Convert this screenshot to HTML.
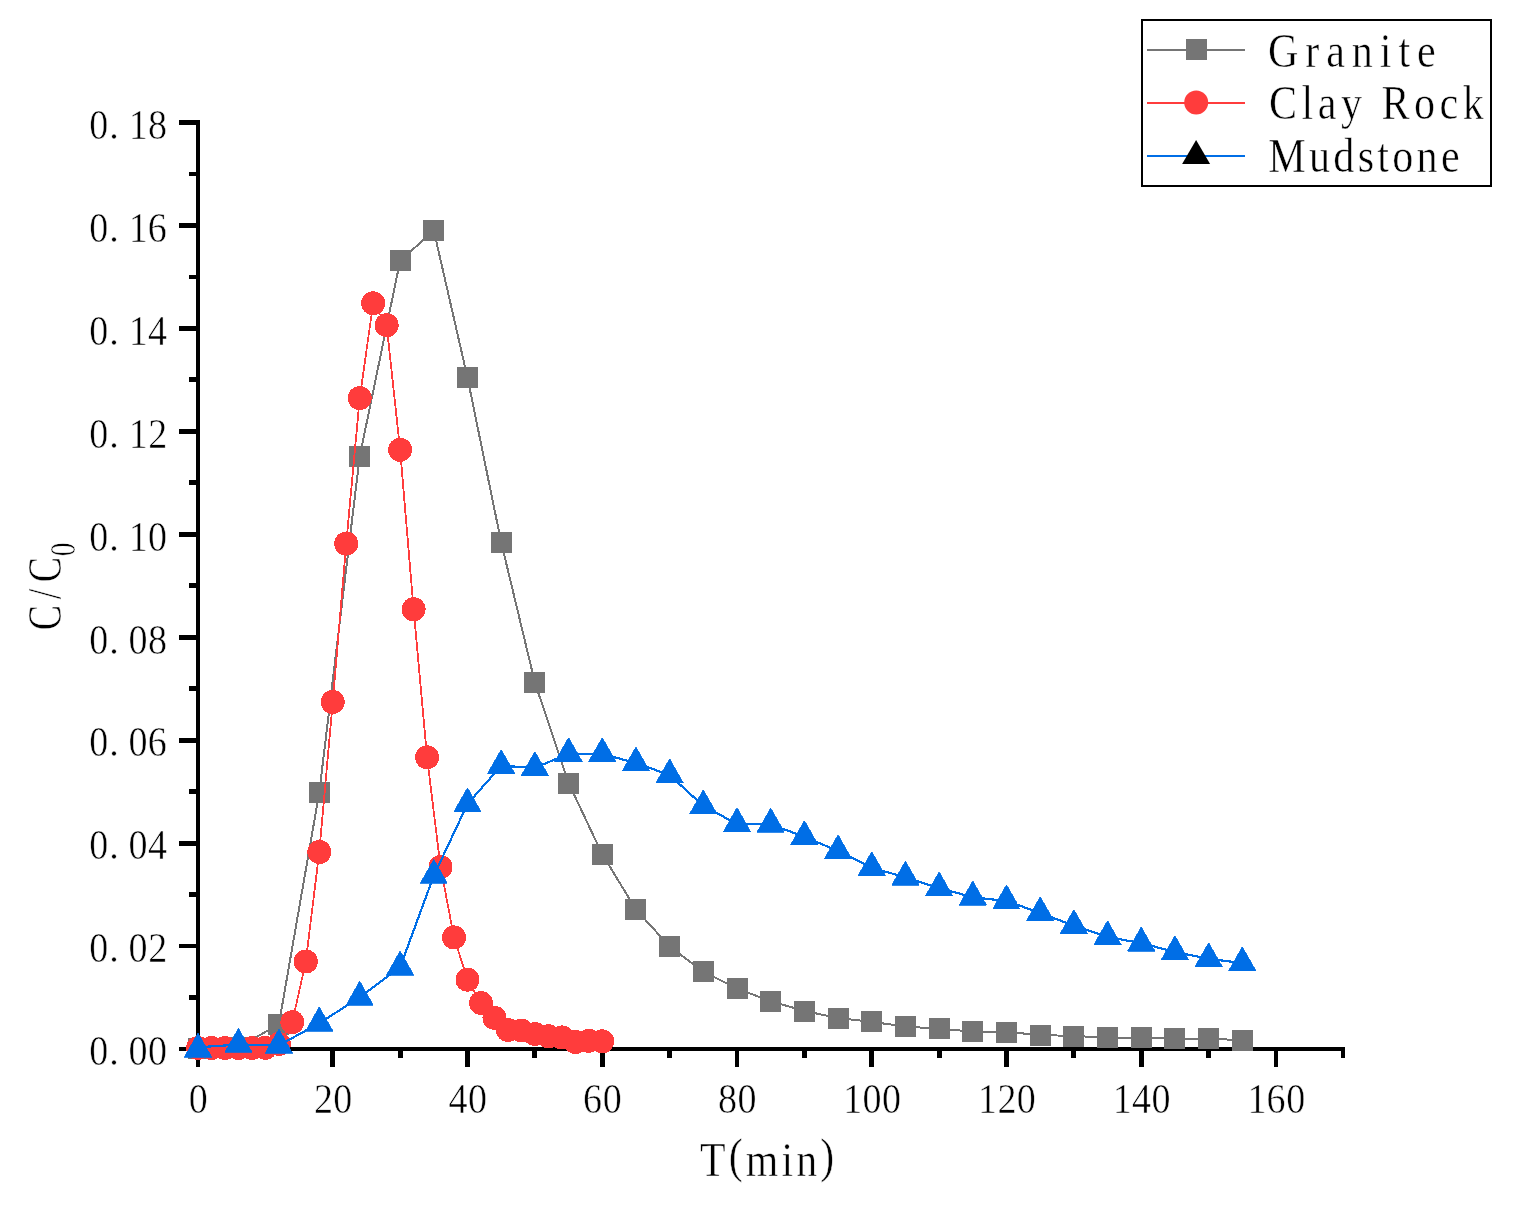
<!DOCTYPE html>
<html lang="en"><head><meta charset="utf-8"><title>C/C0 vs T(min)</title>
<style>html,body{margin:0;padding:0;background:#fff}body{width:1513px;height:1208px;overflow:hidden}svg{display:block}.t{font-family:"Liberation Serif",serif;fill:#000;stroke:#fff;stroke-width:0.5px}.ax{fill:#000;shape-rendering:crispEdges}</style></head><body>
<svg width="1513" height="1208" viewBox="0 0 1513 1208">
<rect width="1513" height="1208" fill="#fff"/>
<g class="ax">
<rect x="196" y="120" width="4" height="931"/>
<rect x="196" y="1047" width="1149" height="4"/>
<path d="M179 1047h17v4h-17zM189 995h7v5h-7zM179 944h17v4h-17zM189 892h7v5h-7zM179 841h17v5h-17zM189 789h7v5h-7zM179 738h17v5h-17zM189 686h7v5h-7zM179 635h17v5h-17zM189 583h7v5h-7zM179 532h17v5h-17zM189 480h7v5h-7zM179 429h17v5h-17zM189 377h7v5h-7zM179 326h17v5h-17zM189 275h7v4h-7zM179 223h17v5h-17zM189 172h7v4h-7zM179 120h17v5h-17zM196 1051h4v16h-4zM263 1051h5v7h-5zM330 1051h5v16h-5zM398 1051h5v7h-5zM465 1051h5v16h-5zM532 1051h5v7h-5zM600 1051h5v16h-5zM667 1051h5v7h-5zM735 1051h4v16h-4zM802 1051h5v7h-5zM869 1051h5v16h-5zM937 1051h5v7h-5zM1004 1051h5v16h-5zM1071 1051h5v7h-5zM1139 1051h5v16h-5zM1206 1051h5v7h-5zM1274 1051h4v16h-4zM1341 1051h4v7h-4z"/>
</g>
<g id="series" shape-rendering="crispEdges">
<g id="granite">
<polyline fill="none" stroke="#757575" stroke-width="2" stroke-linejoin="round" points="198,1048.5 238.43,1047 278.85,1024.5 319.27,792.5 359.7,456.5 400.12,260.9 433.81,230.5 467.5,377.7 501.19,542.3 534.88,682.5 568.56,783 602.25,854.2 635.94,909.5 669.62,946.5 703.31,971.6 737,988.6 770.69,1001.2 804.38,1011 838.06,1018 871.75,1021.9 905.44,1026.5 939.12,1028.9 972.81,1031.5 1006.5,1032 1040.19,1035 1073.88,1036 1107.56,1037.5 1141.25,1037.5 1174.94,1038.4 1208.62,1038.9 1242.31,1040"/>
<path fill="#757575" d="M187.5 1038h21v21h-21zM227.93 1036.5h21v21h-21zM268.35 1014h21v21h-21zM308.77 782h21v21h-21zM349.2 446h21v21h-21zM389.62 250.4h21v21h-21zM423.31 220h21v21h-21zM457 367.2h21v21h-21zM490.69 531.8h21v21h-21zM524.38 672h21v21h-21zM558.06 772.5h21v21h-21zM591.75 843.7h21v21h-21zM625.44 899h21v21h-21zM659.12 936h21v21h-21zM692.81 961.1h21v21h-21zM726.5 978.1h21v21h-21zM760.19 990.7h21v21h-21zM793.88 1000.5h21v21h-21zM827.56 1007.5h21v21h-21zM861.25 1011.4h21v21h-21zM894.94 1016h21v21h-21zM928.62 1018.4h21v21h-21zM962.31 1021h21v21h-21zM996 1021.5h21v21h-21zM1029.69 1024.5h21v21h-21zM1063.38 1025.5h21v21h-21zM1097.06 1027h21v21h-21zM1130.75 1027h21v21h-21zM1164.44 1027.9h21v21h-21zM1198.12 1028.4h21v21h-21zM1231.81 1029.5h21v21h-21z"/>
</g>
<g id="clay">
<polyline fill="none" stroke="#FF3C3C" stroke-width="1.8" stroke-linejoin="round" points="198,1048 211.47,1048 224.95,1048 238.43,1048 251.9,1048 265.38,1047.8 278.85,1044 292.32,1022.2 305.8,961.5 319.27,852 332.75,702 346.23,543.6 359.7,398.1 373.17,303.3 386.65,325.2 400.12,449.8 413.6,609.3 427.07,757.3 440.55,867 454.02,937.4 467.5,979.7 480.97,1003 494.45,1017.8 507.93,1030 521.4,1030.5 534.88,1034 548.35,1036.3 561.83,1037.4 575.3,1042 588.77,1040.8 602.25,1041.3"/>
<g fill="#FF3C3C">
<circle cx="198" cy="1048" r="12"/>
<circle cx="211.47" cy="1048" r="12"/>
<circle cx="224.95" cy="1048" r="12"/>
<circle cx="238.43" cy="1048" r="12"/>
<circle cx="251.9" cy="1048" r="12"/>
<circle cx="265.38" cy="1047.8" r="12"/>
<circle cx="278.85" cy="1044" r="12"/>
<circle cx="292.32" cy="1022.2" r="12"/>
<circle cx="305.8" cy="961.5" r="12"/>
<circle cx="319.27" cy="852" r="12"/>
<circle cx="332.75" cy="702" r="12"/>
<circle cx="346.23" cy="543.6" r="12"/>
<circle cx="359.7" cy="398.1" r="12"/>
<circle cx="373.17" cy="303.3" r="12"/>
<circle cx="386.65" cy="325.2" r="12"/>
<circle cx="400.12" cy="449.8" r="12"/>
<circle cx="413.6" cy="609.3" r="12"/>
<circle cx="427.07" cy="757.3" r="12"/>
<circle cx="440.55" cy="867" r="12"/>
<circle cx="454.02" cy="937.4" r="12"/>
<circle cx="467.5" cy="979.7" r="12"/>
<circle cx="480.97" cy="1003" r="12"/>
<circle cx="494.45" cy="1017.8" r="12"/>
<circle cx="507.93" cy="1030" r="12"/>
<circle cx="521.4" cy="1030.5" r="12"/>
<circle cx="534.88" cy="1034" r="12"/>
<circle cx="548.35" cy="1036.3" r="12"/>
<circle cx="561.83" cy="1037.4" r="12"/>
<circle cx="575.3" cy="1042" r="12"/>
<circle cx="588.77" cy="1040.8" r="12"/>
<circle cx="602.25" cy="1041.3" r="12"/>
</g></g>
<g id="mudstone">
<polyline fill="none" stroke="#006EE6" stroke-width="2.2" stroke-linejoin="round" points="198,1047.3 238.43,1044.6 278.85,1045.4 319.27,1023.2 359.7,997.4 400.12,967.2 433.81,875.6 467.5,804 501.19,765.8 534.88,767.8 568.56,753.75 602.25,753.75 635.94,763.1 669.62,775 703.31,806 737,823.9 770.69,824.3 804.38,836.8 838.06,851 871.75,867.8 905.44,877.3 939.12,888.1 972.81,897.2 1006.5,901 1040.19,912.9 1073.88,925.75 1107.56,936.9 1141.25,943.2 1174.94,951.9 1208.62,958.9 1242.31,963"/>
<path fill="#006EE6" stroke="#006EE6" stroke-width="0.8" stroke-miterlimit="10" d="M198 1033l13.65 24h-27.3zM238.43 1028.4l13.65 24h-27.3zM278.85 1029.2l13.65 24h-27.3zM319.27 1007l13.65 24h-27.3zM359.7 981.2l13.65 24h-27.3zM400.12 951l13.65 24h-27.3zM433.81 859.4l13.65 24h-27.3zM467.5 787.8l13.65 24h-27.3zM501.19 749.6l13.65 24h-27.3zM534.88 751.6l13.65 24h-27.3zM568.56 737.55l13.65 24h-27.3zM602.25 737.55l13.65 24h-27.3zM635.94 746.9l13.65 24h-27.3zM669.62 758.8l13.65 24h-27.3zM703.31 789.8l13.65 24h-27.3zM737 807.7l13.65 24h-27.3zM770.69 808.1l13.65 24h-27.3zM804.38 820.6l13.65 24h-27.3zM838.06 834.8l13.65 24h-27.3zM871.75 851.6l13.65 24h-27.3zM905.44 861.1l13.65 24h-27.3zM939.12 871.9l13.65 24h-27.3zM972.81 881l13.65 24h-27.3zM1006.5 884.8l13.65 24h-27.3zM1040.19 896.7l13.65 24h-27.3zM1073.88 909.55l13.65 24h-27.3zM1107.56 920.7l13.65 24h-27.3zM1141.25 927l13.65 24h-27.3zM1174.94 935.7l13.65 24h-27.3zM1208.62 942.7l13.65 24h-27.3zM1242.31 946.8l13.65 24h-27.3z"/>
</g>
</g>
<text class="t" transform="translate(89 1065.3) scale(0.91 1)" font-size="41.8" x="0.37 22.19 43.34 64.82" y="0">0.00</text>
<text class="t" transform="translate(89 962.36) scale(0.91 1)" font-size="41.8" x="0.37 22.19 43.34 65.06" y="0">0.02</text>
<text class="t" transform="translate(89 859.41) scale(0.91 1)" font-size="41.8" x="0.37 22.19 43.34 64.74" y="0">0.04</text>
<text class="t" transform="translate(89 756.47) scale(0.91 1)" font-size="41.8" x="0.37 22.19 43.34 64.55" y="0">0.06</text>
<text class="t" transform="translate(89 653.52) scale(0.91 1)" font-size="41.8" x="0.37 22.19 43.34 64.82" y="0">0.08</text>
<text class="t" transform="translate(89 550.58) scale(0.91 1)" font-size="41.8" x="0.37 22.19 43.75 64.82" y="0">0.10</text>
<text class="t" transform="translate(89 447.64) scale(0.91 1)" font-size="41.8" x="0.37 22.19 43.75 65.06" y="0">0.12</text>
<text class="t" transform="translate(89 344.69) scale(0.91 1)" font-size="41.8" x="0.37 22.19 43.75 64.74" y="0">0.14</text>
<text class="t" transform="translate(89 241.75) scale(0.91 1)" font-size="41.8" x="0.37 22.19 43.75 64.55" y="0">0.16</text>
<text class="t" transform="translate(89 138.8) scale(0.91 1)" font-size="41.8" x="0.37 22.19 43.75 64.82" y="0">0.18</text>
<text class="t" transform="translate(188 1112.5) scale(0.91 1)" font-size="41.8" x="0.87" y="0">0</text>
<text class="t" transform="translate(313 1112.5) scale(0.91 1)" font-size="41.8" x="1.08 22.32" y="0">20</text>
<text class="t" transform="translate(448 1112.5) scale(0.91 1)" font-size="41.8" x="0.48 22.05" y="0">40</text>
<text class="t" transform="translate(583 1112.5) scale(0.91 1)" font-size="41.8" x="0.02 21.78" y="0">60</text>
<text class="t" transform="translate(718 1112.5) scale(0.91 1)" font-size="41.8" x="0.02 21.5" y="0">80</text>
<text class="t" transform="translate(843 1112.5) scale(0.91 1)" font-size="41.8" x="0.4 21.47 42.96" y="0">100</text>
<text class="t" transform="translate(978 1112.5) scale(0.91 1)" font-size="41.8" x="0.12 21.43 42.68" y="0">120</text>
<text class="t" transform="translate(1113 1112.5) scale(0.91 1)" font-size="41.8" x="-0.15 20.84 42.41" y="0">140</text>
<text class="t" transform="translate(1248 1112.5) scale(0.91 1)" font-size="41.8" x="-0.43 20.37 42.13" y="0">160</text>
<text class="t" transform="translate(700.8 1175.9) scale(0.86 1)" font-size="48.7" x="-0.88 32.46 52.28 93.76 110.88 138.83" y="0" dy="0 -4.4 4.4 0 0 -4.4">T(min)</text>
<text class="t" font-size="48.7" transform="translate(61.4 627.8) rotate(-90) scale(0.78 1)" x="-3.14 36.76 58.46" y="0">C/C<tspan x="91.7" y="13.2" font-size="35">0</tspan></text>
<rect x="1142" y="20" width="349" height="166" fill="none" stroke="#000" stroke-width="2" shape-rendering="crispEdges"/>
<g shape-rendering="crispEdges">
<rect x="1147" y="49" width="98" height="2" fill="#757575"/>
<rect x="1147" y="102" width="98" height="2" fill="#FF3C3C"/>
<rect x="1147" y="155" width="98" height="2" fill="#006EE6"/>
<rect x="1186" y="39" width="21" height="21" fill="#757575"/>
</g>
<circle cx="1196.2" cy="102.5" r="12" fill="#FF3C3C"/>
<path d="M1196.1 140l14 24h-28z" fill="#000"/>
<text class="t" transform="translate(1269.8 67.4) scale(0.86 1)" font-size="49" x="-2.01 41.37 65.67 95.41 127.9 149.51 171.11" y="0">Granite</text>
<text class="t" transform="translate(1270.7 119.4) scale(0.86 1)" font-size="49" x="-2.01 35.87 54.68 81.63 111.32 128.77 166.65 196.35 223.29" y="0">Clay Rock</text>
<text class="t" transform="translate(1269.5 172.2) scale(0.86 1)" font-size="49" x="-1.41 45.95 74.24 102.53 125.39 142.79 171.08 199.37" y="0">Mudstone</text>
</svg></body></html>
